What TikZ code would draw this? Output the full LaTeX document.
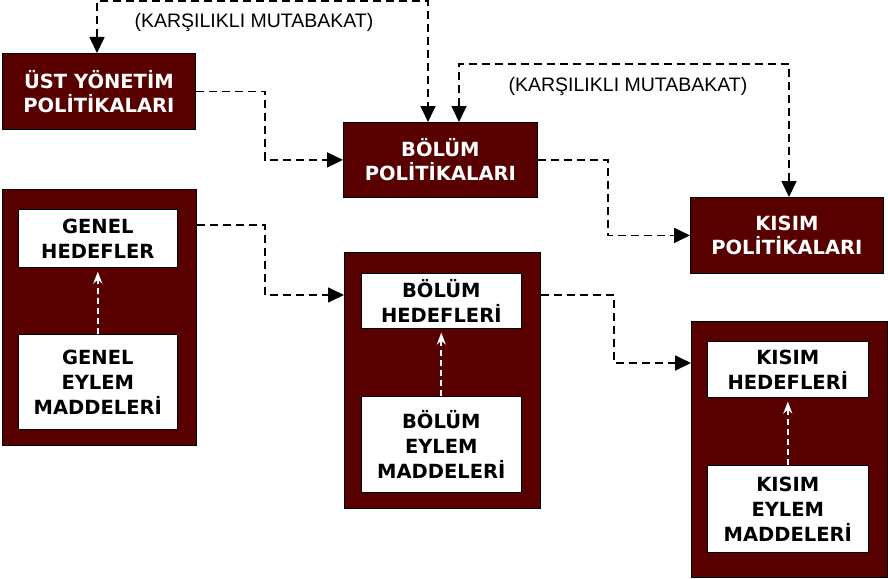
\documentclass[tikz,border=0pt]{standalone}
\usepackage{fontspec}
\setmainfont{DejaVu Sans}
\newfontfamily\lblfont{Liberation Sans}
\usetikzlibrary{arrows.meta,calc}
\definecolor{maroon}{HTML}{580000}
\begin{document}
\begin{tikzpicture}[x=1pt,y=-1pt,
  polbox/.style={fill=maroon,draw=black,line width=0.8pt,text=white,
    font=\bfseries\fontsize{19.5}{24}\selectfont,align=center,inner sep=0pt,anchor=north west},
  container/.style={fill=maroon,draw=black,line width=0.8pt,inner sep=0pt,anchor=north west},
  whitebox/.style={fill=white,draw=black,line width=0.6pt,text=black,
    font=\bfseries\fontsize{19.5}{25}\selectfont,align=center,inner sep=0pt,anchor=north west},
  link/.style={dashed,dash pattern=on 8pt off 5pt,line width=1.7pt,
    -{Triangle[width=15pt,length=16pt]}},
  mutual/.style={dashed,dash pattern=on 8pt off 5pt,line width=1.7pt,
    {Triangle[width=15pt,length=16pt]}-{Triangle[width=15pt,length=16pt]}},
  innerlink/.style={draw=white,dashed,dash pattern=on 6pt off 4pt,line width=1.8pt,
    -{Stealth[width=9pt,length=12pt]},shorten >=4pt},
  lbl/.style={font=\lblfont\fontsize{19.5}{22}\selectfont,inner sep=0pt}
]
\path[use as bounding box] (0,0) rectangle (888,578);

% policy boxes
\node[polbox,minimum width=193pt,minimum height=76pt] (ust) at (2,53) {ÜST YÖNETİM\\POLİTİKALARI};
\node[polbox,minimum width=194pt,minimum height=75pt] (bp) at (343,122) {BÖLÜM\\POLİTİKALARI};
\node[polbox,minimum width=193pt,minimum height=76pt] (kp) at (690,197) {KISIM\\POLİTİKALARI};

% containers
\node[container,minimum width=194pt,minimum height=256pt] (lc) at (2,189) {};
\node[container,minimum width=196pt,minimum height=256pt] (mc) at (344,252) {};
\node[container,minimum width=196pt,minimum height=256pt] (rc) at (691,321) {};

% inner white boxes
\node[whitebox,minimum width=159pt,minimum height=58pt] (gh) at (18,209) {GENEL\\HEDEFLER};
\node[whitebox,minimum width=159pt,minimum height=95pt] (ge) at (18,334) {GENEL\\EYLEM\\MADDELERİ};
\node[whitebox,minimum width=160pt,minimum height=55pt] (bh) at (361,273) {BÖLÜM\\HEDEFLERİ};
\node[whitebox,minimum width=160pt,minimum height=96pt] (be) at (361,396) {BÖLÜM\\EYLEM\\MADDELERİ};
\node[whitebox,minimum width=161pt,minimum height=56pt] (kh) at (707,341) {KISIM\\HEDEFLERİ};
\node[whitebox,minimum width=161pt,minimum height=87pt] (ke) at (707,465) {KISIM\\EYLEM\\MADDELERİ};

% inner arrows
\draw[innerlink] (ge.north) -- (gh.south);
\draw[innerlink] (be.north) -- (bh.south);
\draw[innerlink] (ke.north) -- (kh.south);

% mutual agreement loops
\coordinate (m1a) at (97,1);
\coordinate (m1b) at (428,1);
\draw[mutual] (ust.north -| m1a) -- (m1a) -- (m1b) -- (bp.north -| m1b);
\node[lbl] (t1) at (254,23) {(KARŞILIKLI MUTABAKAT)};

\coordinate (m2a) at (459,64);
\coordinate (m2b) at (789,64);
\draw[mutual] (bp.north -| m2a) -- (m2a) -- (m2b) -- (kp.north -| m2b);
\node[lbl] (t2) at (628,87) {(KARŞILIKLI MUTABAKAT)};

% flow links
\coordinate (c1) at (265,0);
\draw[link] (ust.east) -- (ust.east -| c1) |- (bp.west);
\coordinate (c2) at (608,0);
\draw[link] (bp.east) -- (bp.east -| c2) |- (kp.west);

\coordinate (s3) at ($(lc.north east)+(0,36)$);
\draw[link] (s3) -- (s3 -| c1) |- ($(mc.north west)+(0,43)$);
\coordinate (c4) at (614,0);
\coordinate (s4) at ($(mc.north east)+(0,43)$);
\draw[link] (s4) -- (s4 -| c4) |- ($(rc.north west)+(0,42)$);
\end{tikzpicture}
\end{document}
